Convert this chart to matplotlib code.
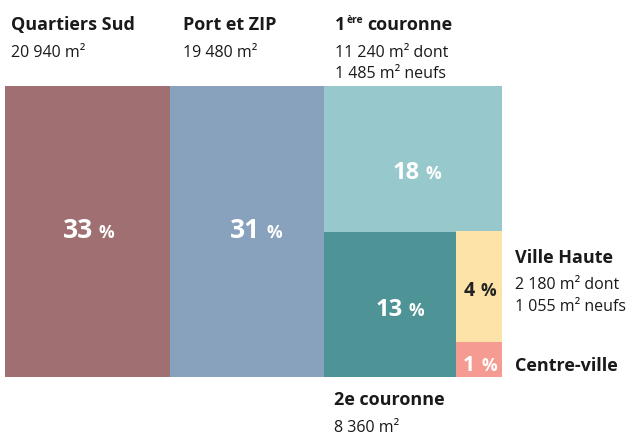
'''
Treemap of floor area by sector
'''
import matplotlib.pyplot as plt

plt.rcParams['font.family'] = ['Open Sans', 'DejaVu Sans']

# data (m2) and displayed shares
sectors = ["Quartiers Sud", "Port et ZIP", "1ère couronne", "2e couronne", "Ville Haute", "Centre-ville"]
areas = [20940, 19480, 11240, 8360, 2180, 700]
shares = [33, 31, 18, 13, 4, 1]
area_labels = [["20 940 m²"], ["19 480 m²"], ["11 240 m² dont", "1 485 m² neufs"], ["8 360 m²"],
               ["2 180 m² dont", "1 055 m² neufs"], []]

colors = ["#A06F71", "#88A2BD", "#97C9CC", "#4E9497", "#FDE3A8", "#F59B91"]
pct_colors = ["white", "white", "white", "white", "#222222", "white"]
pct_sizes = [19, 19, 17, 17, 14, 15]
# nudges of the % labels from the cell centre (pixels, x right / y down)
pct_dx = [0, 8, 3, 9, 0, 0]
pct_dy = [6, 6, 19, 11, 8, 11]


def layout(a):
    '''slice-and-dice: two columns, then a third column split top / bottom'''
    total = sum(a)
    rest = sum(a[2:])
    bottom = sum(a[3:])
    x0, x1, x2 = 0, a[0], a[0] + a[1]
    h_top = a[2] / rest
    w2 = rest * a[3] / bottom
    small = a[4] + a[5]
    h_vh = (1 - h_top) * a[4] / small
    rects = [
        (x0, 0, a[0], 1),
        (x1, 0, a[1], 1),
        (x2, 1 - h_top, rest, h_top),
        (x2, 0, w2, 1 - h_top),
        (x2 + w2, 1 - h_top - h_vh, rest - w2, h_vh),
        (x2 + w2, 0, rest - w2, 1 - h_top - h_vh),
    ]
    return rects, total


rects, total = layout(areas)

fig = plt.figure(figsize=(6.3, 4.35), dpi=100)
ax = fig.add_axes([5 / 630, 57 / 435, 497 / 630, 291 / 435])
ax.set_xlim(0, total)
ax.set_ylim(0, 1)
ax.axis("off")

for (x, y, w, h), c in zip(rects, colors):
    ax.bar(x, h, width=w, bottom=y, align="edge", color=c, linewidth=0)

# percentage labels
for i, (x, y, w, h) in enumerate(rects):
    cx, cy = x + w / 2, y + h / 2
    num = ax.annotate(str(shares[i]), xy=(cx, cy), xytext=(pct_dx[i] - 10, -pct_dy[i]),
                      textcoords="offset pixels", ha="center", va="baseline",
                      fontsize=pct_sizes[i], fontweight="bold", color=pct_colors[i])
    ax.annotate("%", xy=(1, cy), xycoords=(num, "data"), xytext=(6, -pct_dy[i]),
                textcoords="offset pixels", ha="left", va="baseline",
                fontsize=12.5, fontweight="bold", color=pct_colors[i])

TITLE = dict(fontsize=13, fontweight="bold", color="#1a1a1a", va="baseline", ha="left")
SUB = dict(fontsize=11.5, color="#1a1a1a", va="baseline", ha="left")


def label(anchor, dx, dy, title, sub, sup=None, gap=27):
    if sup is None:
        ax.annotate(title, xy=anchor, xytext=(dx, -dy), textcoords="offset pixels", **TITLE)
    else:
        first, rest = title
        t1 = ax.annotate(first, xy=anchor, xytext=(dx, -dy), textcoords="offset pixels", **TITLE)
        t2 = ax.annotate(sup, xy=(1, anchor[1]), xycoords=(t1, "data"), xytext=(1, -dy + 7),
                         textcoords="offset pixels", fontsize=7.5, fontweight="bold",
                         color="#1a1a1a", va="baseline", ha="left")
        ax.annotate(rest, xy=(1, anchor[1]), xycoords=(t2, "data"), xytext=(4, -dy),
                    textcoords="offset pixels", **TITLE)
    for k, line in enumerate(sub):
        ax.annotate(line, xy=anchor, xytext=(dx, -dy - gap - 21.5 * k),
                    textcoords="offset pixels", **SUB)


# labels above the first three cells (anchored at top-left corners)
label((rects[0][0], 1), 6, -57, sectors[0], area_labels[0])
label((rects[1][0], 1), 13, -57, sectors[1], area_labels[1])
label((rects[2][0], 1), 11, -57, ("1", "couronne"), area_labels[2], sup="ère")

# labels right of the small cells
right = rects[4][0] + rects[4][2]
label((right, rects[4][1] + rects[4][3]), 13, 31, sectors[4], area_labels[4], gap=26)
label((right, rects[5][1] + rects[5][3]), 13, 28, sectors[5], area_labels[5])

# label under the 2e couronne cell
label((rects[3][0], 0), 10, 27, sectors[3], area_labels[3], gap=27.5)

fig.savefig("out.png", dpi=100)
